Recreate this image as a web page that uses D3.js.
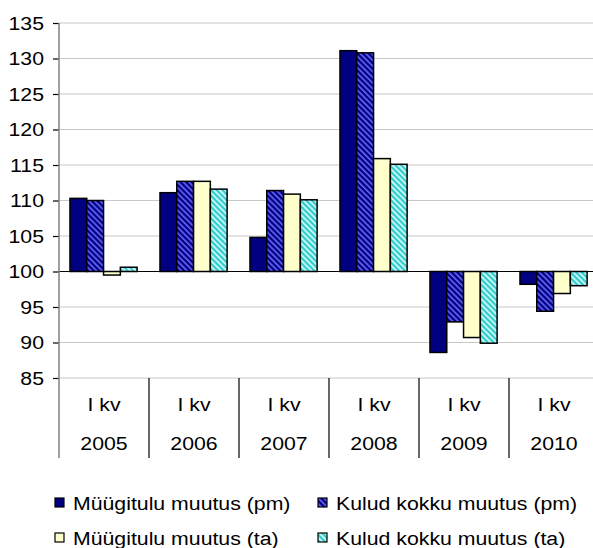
<!DOCTYPE html>
<html><head><meta charset="utf-8">
<script src="https://cdn.jsdelivr.net/npm/d3@7"></script>
<style>body{margin:0;background:#fff;} text{font-family:"Liberation Sans",Arial,sans-serif;fill:#000;}</style>
</head><body>
<svg id="c" width="593" height="548"></svg>
<script>
const years = ["2005","2006","2007","2008","2009","2010"];
const quarter = "I kv";
const seriesNames = ["Müügitulu muutus (pm)","Kulud kokku muutus (pm)","Müügitulu muutus (ta)","Kulud kokku muutus (ta)"];
const muugituluPm = [110.3, 111.1, 104.8, 131.1, 88.6, 98.2];
const kuludPm     = [110.0, 112.7, 111.4, 130.8, 92.9, 94.4];
const muugituluTa = [99.5, 112.7, 110.9, 115.9, 90.7, 96.9];
const kuludTa     = [100.6, 111.6, 110.1, 115.1, 89.9, 98.0];
const yTicks = [85,90,95,100,105,110,115,120,125,130,135];

const series = [muugituluPm, kuludPm, muugituluTa, kuludTa];
const FS = 19, SX = 1.12;
const svg = d3.select("#c");
const defs = svg.append("defs");
function hatch(id, bg, fg){
  const p = defs.append("pattern").attr("id",id).attr("patternUnits","userSpaceOnUse")
    .attr("width",4).attr("height",4).attr("patternTransform","rotate(-45)");
  p.append("rect").attr("width",4).attr("height",4).attr("fill",bg);
  p.append("rect").attr("width",1.6).attr("height",4).attr("fill",fg);
}
hatch("h1","#000080","#6a6aff");
hatch("h2","#33cccc","#e0ffff");
const fills = ["#000080","url(#h1)","#ffffcc","url(#h2)"];

function stext(parent, x, yy, str, anchor){
  return parent.append("text")
    .attr("transform",`translate(${x},${yy}) scale(${SX},1)`)
    .attr("text-anchor",anchor||"start").attr("font-size",FS).text(str);
}

const pLeft = 59, pRight = 599, pTop = 23, pBottom = 378;
const y = d3.scaleLinear().domain([85,135]).range([pBottom, pTop]);
const x0 = d3.scaleBand().domain(years).range([pLeft, pRight]);
const x1 = d3.scaleBand().domain(d3.range(4)).range([x0.bandwidth()*0.122, x0.bandwidth()*0.868]);

// grid
svg.append("g").selectAll("line").data(yTicks).join("line")
  .attr("x1",pLeft).attr("x2",593).attr("y1",d=>y(d)).attr("y2",d=>y(d))
  .attr("stroke","#c8c8c8").attr("stroke-width",1.2);

// bars
const g = svg.append("g");
years.forEach((yr,i)=>{
  series.forEach((s,j)=>{
    const v = s[i];
    g.append("rect")
      .attr("x", x0(yr)+x1(j)).attr("width", x1.bandwidth())
      .attr("y", y(Math.max(v,100))).attr("height", Math.abs(y(v)-y(100)))
      .attr("fill", fills[j]).attr("stroke","#000").attr("stroke-width",1.5);
  });
});

// baseline at 100
svg.append("line").attr("x1",pLeft).attr("x2",593).attr("y1",y(100)).attr("y2",y(100))
  .attr("stroke","#000").attr("stroke-width",1.2);

// y axis
const yAxis = d3.axisLeft(y).tickValues(yTicks).tickSize(6).tickPadding(9);
const ya = svg.append("g").attr("transform",`translate(${pLeft},0)`).call(yAxis);
ya.select(".domain").remove();
ya.selectAll(".tick line").attr("stroke","#000").attr("stroke-width",1.2);
ya.selectAll(".tick text")
  .attr("font-size",FS).attr("font-family","Liberation Sans, Arial, sans-serif").attr("fill","#000")
  .attr("x",-15/SX).attr("transform",`scale(${SX},1)`);
svg.append("line").attr("x1",pLeft).attr("x2",pLeft).attr("y1",pTop).attr("y2",458)
  .attr("stroke","#808080").attr("stroke-width",1.5);

// category table
years.slice(1).forEach(yr=>{
  svg.append("line").attr("x1",x0(yr)).attr("x2",x0(yr)).attr("y1",pBottom).attr("y2",458)
    .attr("stroke","#000").attr("stroke-width",1.2);
});
const cat = svg.append("g");
years.forEach(yr=>{
  const cx = x0(yr)+x0.bandwidth()/2;
  stext(cat, cx, 410.5, quarter, "middle");
  stext(cat, cx, 450, yr, "middle");
});

// legend
const legPos = [[55,503],[318,503],[55,538],[318,538]];
const leg = svg.append("g");
seriesNames.forEach((n,j)=>{
  const [lx,ly] = legPos[j];
  leg.append("rect").attr("x",lx).attr("y",ly-5).attr("width",9).attr("height",9)
    .attr("fill",fills[j]).attr("stroke","#000").attr("stroke-width",1.2);
  stext(leg, lx+18, ly+7, n, "start");
});
</script>
</body></html>
